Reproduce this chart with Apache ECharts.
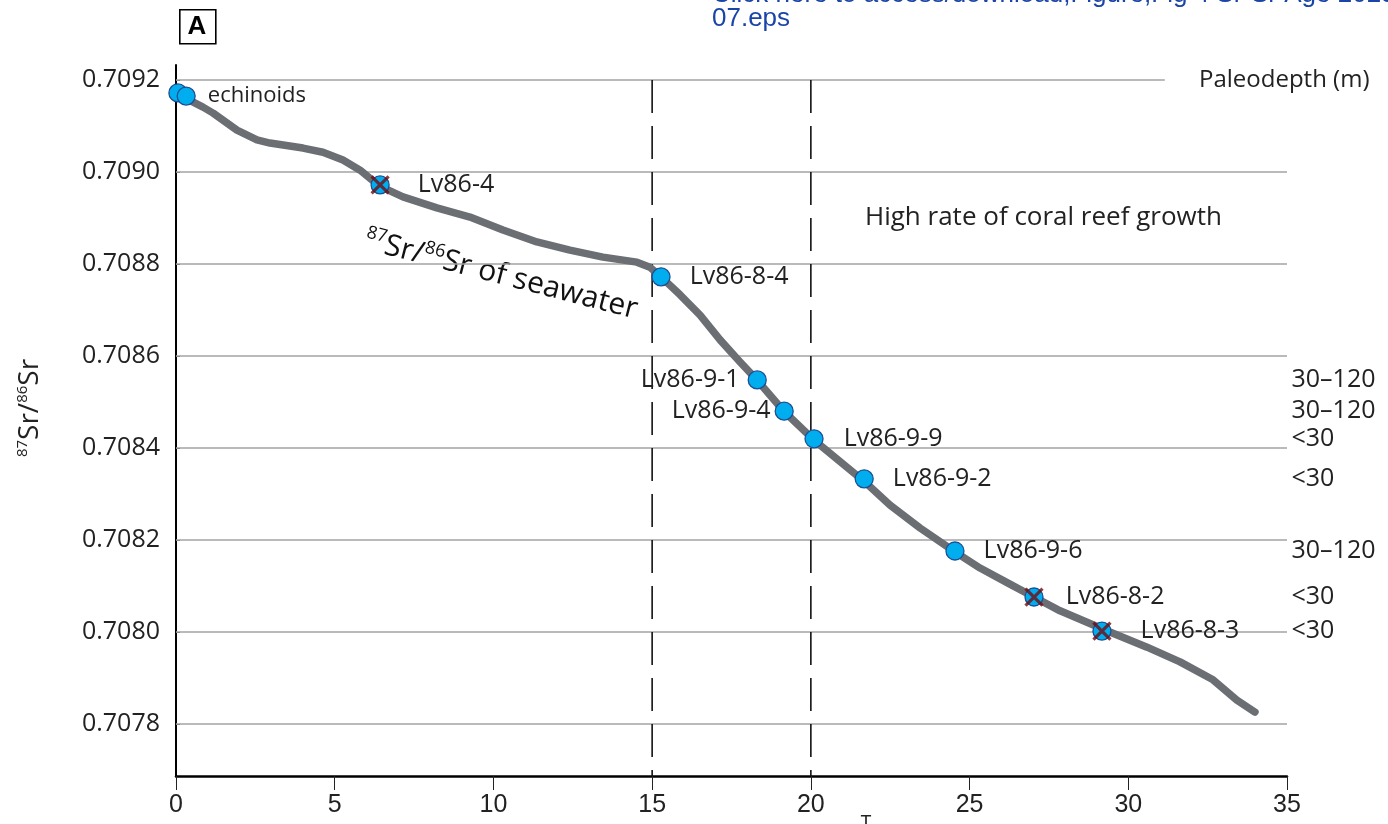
<!DOCTYPE html>
<html>
<head>
<meta charset="utf-8">
<script src="https://cdn.jsdelivr.net/npm/echarts@6.0.0/dist/echarts.min.js"></script>
<style>
  html, body { margin: 0; padding: 0; background: #fff; }
  #chart { width: 1388px; height: 824px; }
</style>
</head>
<body>
<div id="chart"></div>
<script>
// ---------------- data ----------------
// seawater 87Sr/86Sr reference curve
var curveX = [0.13, 0.28, 0.85, 1.17, 1.92, 2.55, 2.96, 4.00, 4.63, 5.26, 5.80, 6.40, 7.15, 8.22, 9.26,
              10.30, 11.37, 12.41, 13.45, 14.52, 14.93, 15.28, 15.88, 16.51, 17.14, 17.77, 18.30, 19.15,
              20.10, 21.67, 22.49, 23.44, 24.54, 25.33, 26.27, 27.03, 27.85, 29.42, 30.59, 31.63, 32.67,
              33.42, 33.99];
var curveY = [0.709174, 0.709161, 0.709141, 0.709128, 0.709091, 0.709070, 0.709063, 0.709052, 0.709043,
              0.709026, 0.709004, 0.708970, 0.708946, 0.708922, 0.708902, 0.708874, 0.708848, 0.708830,
              0.708815, 0.708804, 0.708793, 0.708772, 0.708733, 0.708689, 0.708635, 0.708587, 0.708548,
              0.708480, 0.708417, 0.708328, 0.708276, 0.708226, 0.708174, 0.708139, 0.708104, 0.708076,
              0.708046, 0.708000, 0.707967, 0.707935, 0.707896, 0.707852, 0.707826];

// samples
var sampleNames = ['echinoids', 'echinoids', 'Lv86-4', 'Lv86-8-4', 'Lv86-9-1', 'Lv86-9-4', 'Lv86-9-9',
                   'Lv86-9-2', 'Lv86-9-6', 'Lv86-8-2', 'Lv86-8-3'];
var sampleX = [0.06, 0.32, 6.43, 15.28, 18.31, 19.16, 20.10, 21.68, 24.54, 27.03, 29.17];
var sampleY = [0.709172, 0.709165, 0.708972, 0.708772, 0.708548, 0.708480, 0.708420, 0.708333,
               0.708176, 0.708076, 0.708002];
var sampleAltered = [false, false, true, false, false, false, false, false, false, true, true];
var samplePaleodepth = ['', '', '', '', '30–120', '30–120', '<30', '<30', '30–120', '<30', '<30'];

// axes
var xTicks = [0, 5, 10, 15, 20, 25, 30, 35];
var yTicks = [0.7078, 0.7080, 0.7082, 0.7084, 0.7086, 0.7088, 0.7090, 0.7092];
var gridLineEnds = [35, 35, 35, 35, 35, 35, 35, 31.15];   // x where each horizontal rule ends
var periodBounds = [15, 20];                               // dashed verticals (high reef growth)

// ---------------- styling (not data) ----------------
var FONT = '"Open Sans", "DejaVu Sans", sans-serif';
var SANS = '"Liberation Sans", Arial, sans-serif';
var yMax = 0.70923261, yMin = 0.70768690;
var labelLayout = [
  { show: false },
  { side: 'right', gap: 12, size: 22 },
  { side: 'right', gap: 28 },
  { side: 'right', gap: 19 },
  { side: 'left', gap: 8 },
  { side: 'left', gap: 4 },
  { side: 'right', gap: 20 },
  { side: 'right', gap: 19 },
  { side: 'right', gap: 19 },
  { side: 'right', gap: 22 },
  { side: 'right', gap: 29 }
];

var chart = echarts.init(document.getElementById('chart'), null, { renderer: 'canvas' });

var series = [];

// horizontal rules
yTicks.forEach(function (v, i) {
  series.push({
    type: 'line', silent: true, z: 1, symbol: 'none',
    data: [[0, v], [gridLineEnds[i], v]],
    lineStyle: { color: '#a3a3a3', width: 1.6 }
  });
});

// dashed period boundaries
periodBounds.forEach(function (b) {
  series.push({
    type: 'line', silent: true, z: 2, symbol: 'none',
    data: [[b, yTicks[yTicks.length - 1]], [b, yMin]],
    lineStyle: { color: '#111', width: 1.6, type: [33, 13] }
  });
});

// seawater curve
series.push({
  type: 'line', z: 3, symbol: 'none', silent: true,
  data: curveX.map(function (x, i) { return [x, curveY[i]]; }),
  lineStyle: { color: '#6b6f74', width: 7.5, cap: 'round', join: 'round' }
});

// samples
series.push({
  type: 'scatter', z: 5, symbol: 'circle', symbolSize: 18,
  itemStyle: { color: '#00aeef', borderColor: '#1d4e93', borderWidth: 1.3, opacity: 1 },
  data: sampleX.map(function (x, i) {
    var L = labelLayout[i];
    return {
      value: [x, sampleY[i]],
      name: sampleNames[i],
      label: {
        show: L.show !== false,
        formatter: '{b}',
        position: L.side || 'right',
        distance: L.gap || 10,
        fontSize: L.size || 25,
        fontFamily: FONT,
        color: '#222'
      }
    };
  })
});

// crosses on altered samples
series.push({
  type: 'scatter', z: 6, silent: true,
  symbol: 'path://M0,0L10,10M10,0L0,10', symbolSize: 17,
  itemStyle: { color: 'none', borderColor: '#6e0d10', borderWidth: 3.2 },
  data: sampleX.map(function (x, i) { return sampleAltered[i] ? [x, sampleY[i]] : null; })
                .filter(function (d) { return d; })
});

// paleodepth column
series.push({
  type: 'scatter', z: 6, silent: true, symbol: 'circle', symbolSize: 1, clip: false,
  itemStyle: { color: 'rgba(0,0,0,0)', opacity: 1 },
  data: sampleX.map(function (x, i) {
    return samplePaleodepth[i] ? { value: [35, sampleY[i]], name: samplePaleodepth[i] } : null;
  }).filter(function (d) { return d; }),
  label: { show: true, formatter: '{b}', position: 'right', distance: 4, opacity: 1,
           fontSize: 25, fontFamily: FONT, color: '#222' }
});

var option = {
  animation: false,
  backgroundColor: '#fff',
  grid: { left: 176, right: 101, top: 65, bottom: 48, containLabel: false },
  xAxis: {
    type: 'value', min: 0, max: 35, interval: 5,
    axisLine: { show: true, lineStyle: { color: '#000', width: 2.5 } },
    axisTick: { show: true, length: 14, lineStyle: { color: '#222', width: 1 } },
    axisLabel: { margin: 17, fontSize: 25, fontFamily: SANS, color: '#222',
                 customValues: xTicks },
    splitLine: { show: false }
  },
  yAxis: {
    type: 'value', min: yMin, max: yMax,
    axisLine: { show: true, lineStyle: { color: '#000', width: 2 } },
    axisTick: { show: true, inside: true, length: 4, lineStyle: { color: '#444', width: 1 },
                customValues: yTicks },
    axisLabel: { margin: 16, fontSize: 25, fontFamily: FONT, color: '#222',
                 customValues: yTicks,
                 formatter: function (v) { return v.toFixed(4); } },
    splitLine: { show: false }
  },
  series: series,
  graphic: [
    // panel letter
    { type: 'rect', left: 179, top: 9, shape: { width: 36, height: 34 },
      style: { fill: '#fff', stroke: '#000', lineWidth: 1.6 } },
    { type: 'text', x: 197, y: 27, style: { text: 'A', fontSize: 26, fontWeight: 'bold',
      fontFamily: SANS, fill: '#000', align: 'center', verticalAlign: 'middle' } },
    // blue header (first line cut off at the top of the page)
    { type: 'text', x: 712, y: -5, style: { text: 'Click here to access/download;Figure;Fig 4 Sr-Sr Age 2023-',
      fontSize: 26, fontFamily: SANS, fill: '#1a44a8', align: 'left', verticalAlign: 'middle' } },
    { type: 'text', x: 712, y: 19, style: { text: '07.eps',
      fontSize: 26, fontFamily: SANS, fill: '#1a44a8', align: 'left', verticalAlign: 'middle' } },
    // y axis title
    { type: 'text', x: 30, y: 408, rotation: Math.PI / 2,
      style: { text: '{s|87}{b|Sr/}{s|86}{b|Sr}', align: 'center', verticalAlign: 'middle',
        rich: { b: { fontSize: 28, fontFamily: FONT, fill: '#222', lineHeight: 30 },
                s: { fontSize: 15, fontFamily: FONT, fill: '#222', verticalAlign: 'top', lineHeight: 16 } } } },
    // paleodepth header
    { type: 'text', x: 1199, y: 80, style: { text: 'Paleodepth (m)', fontSize: 24, fontFamily: FONT,
      fill: '#222', align: 'left', verticalAlign: 'middle' } },
    // coral reef note
    { type: 'text', x: 865, y: 218, style: { text: 'High rate of coral reef growth', fontSize: 26, fontFamily: FONT,
      fill: '#222', align: 'left', verticalAlign: 'middle' } },
    // seawater curve caption
    { type: 'text', x: 365, y: 240, rotation: -14.5 * Math.PI / 180,
      style: { text: '{s|87}{b|Sr/}{s|86}{b|Sr of seawater}', align: 'left', verticalAlign: 'middle',
        rich: { b: { fontSize: 30, fontFamily: FONT, fill: '#111', lineHeight: 34 },
                s: { fontSize: 18, fontFamily: FONT, fill: '#111', verticalAlign: 'top', lineHeight: 18 } } } },
    // stray mark under axis
    { type: 'text', x: 866, y: 814, style: { text: 'T', fontSize: 18, fontFamily: SANS,
      fill: '#222', align: 'center', verticalAlign: 'top' } }
  ]
};

chart.setOption(option);
</script>
</body>
</html>
